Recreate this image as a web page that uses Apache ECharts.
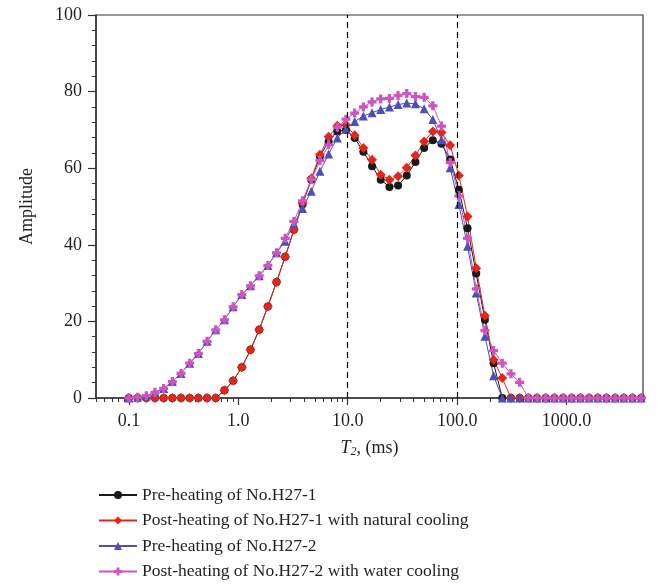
<!DOCTYPE html>
<html>
<head>
<meta charset="utf-8">
<script src="https://cdn.jsdelivr.net/npm/echarts@6/dist/echarts.min.js"></script>
<style>html,body{margin:0;padding:0;background:#fff;}#c{width:660px;height:585px;}</style>
</head>
<body>
<div id="c"></div>
<script>
// T2 relaxation times (ms), log-spaced grid
const t2 = [0.1,0.12,0.1441,0.173,0.2077,0.2494,0.2993,0.3594,0.4314,0.5179,0.6218,0.7465,0.8962,1.0758,1.2915,1.5505,1.8614,2.2346,2.6827,3.2206,3.8664,4.6416,5.5723,6.6897,8.0311,9.6411,11.574,13.895,16.681,20.026,24.042,28.863,34.65,41.598,49.938,59.948,71.969,86.4,103.72,124.52,149.49,179.46,215.44,258.64,310.5,372.76,447.5,537.23,644.96,774.26,929.52,1115.8,1339.6,1608.2,1930.7,2317.8,2782.6,3340.5,4010.3,4814.4];

const preH271 = [0,0,0,0,0,0,0,0,0,0,0,
  2.0,4.5,8.0,12.6,17.8,23.9,30.3,36.9,43.9,50.6,57.0,63.1,67.0,69.6,70.0,67.9,64.3,60.5,57.0,55.1,55.5,58.1,61.6,65.3,67.3,66.4,62.3,54.4,44.3,32.5,20.4,9.1,
  0,0,0,0,0,0,0,0,0,0,0,0,0,0,0,0,0];
const postH271 = [0,0,0,0,0,0,0,0,0,0,0,
  2.0,4.5,8.0,12.6,17.8,23.9,30.3,36.9,43.9,50.9,57.3,63.5,68.2,71.1,71.3,68.6,65.3,62.2,58.3,57.0,57.9,60.1,63.3,67.0,69.6,69.3,66.0,58.1,47.4,33.9,21.5,10.0,5.2,
  0,0,0,0,0,0,0,0,0,0,0,0,0,0,0,0];
const preH272 = [0,0.2,0.6,1.5,2.5,4.3,6.4,9.1,11.6,14.8,17.8,20.4,23.8,27.0,29.3,31.9,34.6,37.9,40.9,45.5,49.5,54.0,59.2,63.7,67.9,70.2,72.2,73.6,74.5,75.3,76.0,76.6,77.0,76.8,75.5,72.7,67.4,60.1,50.5,39.6,27.4,16.1,5.8,
  0,0,0,0,0,0,0,0,0,0,0,0,0,0,0,0,0];
const postH272 = [0,0.2,0.6,1.5,2.5,4.3,6.4,9.1,11.6,14.8,17.8,20.4,23.8,27.0,29.3,31.9,34.6,37.9,41.7,46.1,51.5,57.0,62.0,66.1,70.7,72.8,74.4,76.0,77.3,78.1,78.2,79.0,79.5,78.7,78.5,76.3,71.0,61.5,52.8,41.7,28.5,17.6,12.4,9.1,6.3,4.1,
  0,0,0,0,0,0,0,0,0,0,0,0,0,0,0];

const seriesNames = ['Pre-heating of No.H27-1','Post-heating of No.H27-1 with natural cooling','Pre-heating of No.H27-2','Post-heating of No.H27-2 with water cooling'];
const xMajorTicks = [0.1,1,10,100,1000];
const boundaryLines = [10,100];

const minorTicks = [];
[0.01,0.1,1,10,100,1000].forEach(p=>{for(let k=2;k<=9;k++){const v=Number((k*p).toPrecision(6)); if(v>=0.05&&v<=5000) minorTicks.push(v);}});

const FONT = 'Liberation Serif';
const TXT = '#231f20';
const AX = '#333';

function pairs(arr){ return t2.map((t,i)=>[t, arr[i]]); }

const plusPath = 'path://M3.2,0H6.8V3.2H10V6.8H6.8V10H3.2V6.8H0V3.2H3.2Z';

const styles = [
  {color:'#1a1a1a', symbol:'circle', size:8},
  {color:'#e3261c', symbol:'diamond', size:10},
  {color:'#4b4fb6', symbol:'triangle', size:9},
  {color:'#cc55bf', symbol:plusPath, size:9}
];
const dataArrs = [preH271, postH271, preH272, postH272];

const series = dataArrs.map((arr,i)=>({
  name: seriesNames[i],
  type:'line',
  xAxisIndex:0, yAxisIndex:0,
  data: pairs(arr),
  symbol: styles[i].symbol,
  symbolSize: styles[i].size,
  showAllSymbol:true,
  clip:false,
  itemStyle:{color:styles[i].color},
  lineStyle:{color:styles[i].color, width:1},
  animation:false
}));
series[0].markLine = {
  silent:true, symbol:['none','none'], label:{show:false},
  lineStyle:{color:'#000', type:[6,4], width:1.2},
  data: boundaryLines.map(v=>({xAxis:v})),
  animation:false
};

const chart = echarts.init(document.getElementById('c'), null, {renderer:'canvas'});
chart.setOption({
  backgroundColor:'#fff',
  animation:false,
  textStyle:{fontFamily:FONT, color:TXT},
  grid:{left:96, right:17, top:15, bottom:187, show:true, borderColor:AX, borderWidth:1.2, backgroundColor:'transparent'},
  legend:{
    orient:'vertical', left:98, top:486, padding:0,
    itemWidth:38, itemHeight:10, itemGap:7.5,
    textStyle:{fontFamily:FONT, fontSize:17.5, color:TXT, lineHeight:17.5},
    data: seriesNames
  },
  xAxis:[{
    type:'log', logBase:10, min:0.05, max:5000, position:'bottom',
    name:'{i|T}{s|2}{n|, (ms)}', nameLocation:'middle', nameGap:40,
    nameTextStyle:{rich:{
      i:{fontFamily:FONT, fontStyle:'italic', fontSize:18, color:TXT},
      s:{fontFamily:FONT, fontStyle:'italic', fontSize:12, color:TXT, verticalAlign:'bottom', padding:[8,0,0,0]},
      n:{fontFamily:FONT, fontSize:18, color:TXT}
    }},
    axisLine:{show:true, lineStyle:{color:AX, width:1.5}},
    axisTick:{show:true, inside:false, length:7, customValues:xMajorTicks, lineStyle:{color:AX, width:1.2}},
    axisLabel:{show:true, customValues:xMajorTicks, margin:14, fontFamily:FONT, fontSize:18, color:TXT,
      formatter:v=>Number(v).toFixed(1)},
    splitLine:{show:false}, minorTick:{show:false}
  },{
    type:'log', logBase:10, min:0.05, max:5000, position:'bottom', gridIndex:0,
    axisLine:{show:false},
    axisTick:{show:true, inside:false, length:4, customValues:minorTicks, lineStyle:{color:AX, width:1}},
    axisLabel:{show:false},
    splitLine:{show:false}
  }],
  yAxis:{
    type:'value', min:0, max:100, interval:20,
    name:'Amplitude', nameLocation:'middle', nameGap:60, nameRotate:90,
    nameTextStyle:{fontFamily:FONT, fontSize:18, color:TXT},
    axisLine:{show:true, lineStyle:{color:AX, width:1.5}},
    axisTick:{show:true, inside:false, length:8, lineStyle:{color:AX, width:1.2}},
    minorTick:{show:true, splitNumber:5, length:4, lineStyle:{color:AX, width:1}},
    axisLabel:{margin:14, fontFamily:FONT, fontSize:18, color:TXT},
    splitLine:{show:false}
  },
  series: series
});
</script>
</body>
</html>
